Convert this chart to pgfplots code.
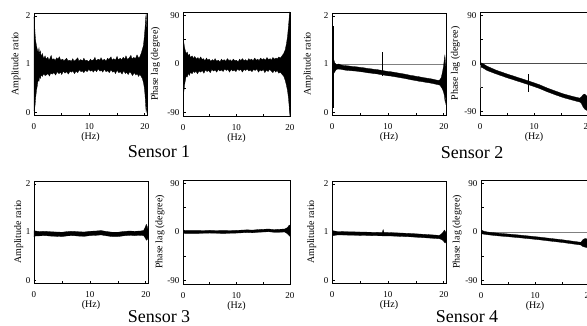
\documentclass[border=0pt]{standalone}
\usepackage{pgfplots}
\pgfplotsset{compat=1.18}
\usepackage{fontspec}
\setmainfont{Liberation Serif}
\pgfplotsset{
 panel/.style={scale only axis, anchor=south west,
   axis line style={line width=0.8pt},
   tick align=inside, tick pos=left,
   major tick length=2.5pt, minor tick length=2.5pt,
   every tick/.style={black, line width=0.6pt},
   xtick={0,10,20}, xticklabels={0,10,20}, minor xtick={5,15},
   ticklabel style={font=\fontsize{9}{10}\selectfont},
   xticklabel style={yshift=-5pt},
   label style={font=\fontsize{10}{12}\selectfont},
   xlabel={(Hz)},
   xlabel style={at={(axis description cs:0.5,0)}, anchor=center, yshift=-22pt},
   /pgf/number format/assume math mode=true},
 amp/.style={panel, xmin=0, xmax=20.4, ymin=-0.06, ymax=2.06,
   ytick={0,1,2}, yticklabels={0,1,2}, ylabel={Amplitude ratio},
   width=113pt, height=102pt,
   ylabel style={at={(axis description cs:#1,0.5)}, anchor=center}},
 ph/.style={panel, xmin=0, xmax=20, ymin=-96, ymax=96,
   ytick={-90,0,90}, yticklabels={-90,0,90}, minor ytick={-45,45},
   ylabel={Phase lag (degree)},
   width=107pt, height=104pt,
   ylabel style={at={(axis description cs:#1,0.5)}, anchor=center}},
 band/.style={fill=black, draw=black, line width=0.3pt, mark=none},
 spike/.style={black, mark=none, line width=#1},
 refl/.style={gray, mark=none, line width=0.6pt},
}
\begin{document}
\begin{tikzpicture}
\path[use as bounding box] (0pt,0pt) rectangle (587pt,325pt);
\clip (0pt,0pt) rectangle (587pt,325pt);

% ---------- Sensor 1 amplitude ----------
\begin{axis}[amp=-0.16, at={(34pt,210pt)}]
\addplot[band] coordinates {
(0,1.98)(0.1,1.85)(0.2,1.62)(0.3,1.48)(0.45,1.38)(0.6,1.30)(0.75,1.24)(0.9,1.33)(1.0,1.20)(1.15,1.27)(1.3,1.15)(1.5,1.22)(1.75,1.11)
(2.0,1.17)(2.2,1.10)(2.5,1.14)(2.7,1.08)(2.9,1.12)(3.1,1.18)(3.3,1.09)(3.6,1.11)(3.8,1.07)(4.1,1.13)(4.3,1.10)(4.6,1.15)(4.8,1.08)(5.2,1.10)(5.4,1.06)(5.6,1.09)(5.9,1.12)(6.1,1.07)(6.5,1.08)(6.7,1.05)(7.0,1.11)(7.2,1.06)(7.5,1.08)(7.9,1.13)(8.1,1.06)(8.4,1.09)(8.8,1.07)(9.0,1.12)(9.3,1.06)(9.5,1.08)(9.9,1.05)(10.2,1.10)(10.4,1.07)(10.8,1.09)(11.0,1.14)(11.2,1.07)(11.6,1.10)(11.9,1.08)(12.1,1.13)(12.4,1.07)(12.7,1.10)(13.0,1.06)(13.3,1.12)(13.5,1.09)(13.9,1.15)(14.1,1.08)(14.4,1.11)(14.7,1.08)(15.0,1.16)(15.2,1.09)(15.6,1.12)(15.8,1.08)(16.1,1.14)(16.4,1.10)(16.6,1.17)(16.9,1.09)(17.2,1.13)(17.5,1.18)(17.7,1.10)(18.0,1.14)(18.3,1.11)(18.6,1.19)(18.9,1.12)(19.1,1.15)
(19.35,1.22)(19.55,1.30)(19.75,1.38)(19.9,1.55)(20.05,1.75)(20.15,1.95)(20.25,2.04)(20.35,1.80)(20.4,1.5)
(20.4,0.4)(20.35,0.08)(20.25,0.0)(20.15,0.15)(20.05,0.35)(19.9,0.52)(19.75,0.62)(19.55,0.70)(19.35,0.74)
(19.1,0.79)(18.9,0.74)(18.6,0.80)(18.4,0.77)(18.1,0.82)(17.8,0.76)(17.5,0.81)(17.3,0.84)(17.0,0.78)(16.7,0.83)(16.5,0.80)(16.2,0.86)(15.9,0.79)(15.6,0.84)(15.3,0.82)(15.0,0.87)(14.7,0.80)(14.5,0.85)(14.2,0.83)(13.9,0.88)(13.6,0.82)(13.3,0.86)(13.0,0.84)(12.7,0.89)(12.4,0.83)(12.2,0.87)(11.9,0.85)(11.6,0.90)(11.3,0.84)(11.0,0.88)(10.7,0.83)(10.5,0.87)(10.2,0.85)(9.9,0.89)(9.6,0.84)(9.3,0.87)(9.0,0.82)(8.7,0.86)(8.5,0.84)(8.2,0.88)(7.9,0.82)(7.6,0.85)(7.3,0.80)(7.0,0.86)(6.8,0.83)(6.5,0.85)(6.2,0.79)(5.9,0.84)(5.6,0.81)(5.3,0.85)(5.0,0.78)(4.8,0.83)(4.5,0.80)(4.2,0.84)(3.9,0.77)(3.6,0.82)(3.3,0.79)(3.0,0.81)(2.8,0.75)(2.5,0.80)(2.2,0.77)(2.0,0.76)
(1.75,0.80)(1.5,0.74)(1.3,0.78)(1.15,0.70)(1.0,0.74)(0.9,0.64)(0.75,0.68)(0.6,0.55)(0.45,0.45)(0.3,0.30)(0.2,0.15)(0.1,0.05)(0,0.02)
};
\end{axis}

% ---------- Sensor 1 phase ----------
\begin{axis}[ph=-0.257, at={(183pt,209pt)}]
\addplot[band] coordinates {
(0,62)(0.08,50)(0.15,40)(0.3,30)(0.45,24)(0.6,19)(0.8,22)(1.0,15)(1.2,18)(1.4,12)(1.7,15)
(2.0,10)(2.2,14)(2.5,9)(2.8,12)(3.0,8)(3.3,13)(3.6,8)(3.8,10)(4.1,6)(4.4,11)(4.6,7)(4.9,9)(5.2,5)(5.5,8)(5.8,6)(6.0,10)(6.3,5)(6.6,7)(6.9,4)(7.2,9)(7.4,6)(7.7,8)(8.0,5)(8.3,10)(8.6,6)(8.8,8)(9.1,5)(9.4,9)(9.7,6)(10.0,7)(10.3,4)(10.6,9)(10.8,6)(11.1,10)(11.4,6)(11.7,8)(12.0,5)(12.3,10)(12.5,7)(12.8,9)(13.1,6)(13.4,11)(13.7,7)(14.0,9)(14.2,6)(14.5,11)(14.8,8)(15.1,10)(15.4,7)(15.7,12)(16.0,8)(16.3,10)(16.5,7)(16.8,12)(17.1,9)(17.4,11)(17.6,9)(17.9,13)
(18.2,11)(18.5,15)(18.8,19)(19.1,26)(19.35,38)(19.55,52)(19.7,68)(19.85,85)(19.95,96)(20,96)
(20,-96)(19.95,-92)(19.85,-78)(19.7,-62)(19.55,-50)(19.35,-40)(19.1,-30)(18.8,-22)(18.5,-19)(18.2,-15)
(17.9,-17)(17.6,-12)(17.3,-15)(17.1,-11)(16.8,-16)(16.5,-13)(16.2,-10)(15.9,-14)(15.6,-11)(15.3,-16)(15.0,-10)(14.7,-13)(14.4,-11)(14.1,-15)(13.8,-9)(13.5,-12)(13.2,-10)(12.9,-14)(12.6,-11)(12.3,-13)(12.0,-9)(11.7,-12)(11.4,-10)(11.1,-15)(10.8,-10)(10.5,-12)(10.2,-9)(9.9,-14)(9.6,-11)(9.3,-13)(9.0,-10)(8.7,-15)(8.4,-10)(8.1,-12)(7.8,-9)(7.5,-14)(7.2,-11)(6.9,-13)(6.6,-10)(6.3,-15)(6.0,-11)(5.7,-13)(5.4,-10)(5.1,-16)(4.8,-12)(4.5,-14)(4.2,-11)(3.9,-17)(3.6,-12)(3.3,-15)(3.0,-13)(2.7,-18)(2.4,-13)(2.2,-16)(2.0,-13)
(1.7,-18)(1.4,-15)(1.2,-21)(1.0,-17)(0.8,-24)(0.6,-22)(0.45,-30)(0.3,-38)(0.15,-52)(0.08,-60)(0,-68)
};
\end{axis}

% ---------- Sensor 2 amplitude ----------
\begin{axis}[amp=-0.208, at={(332pt,210pt)}, width=114pt]
\addplot[refl] coordinates {(0,1)(20.4,1)};
\addplot[band] coordinates {
(0,1.05)(0.15,1.12)(0.3,1.10)(0.5,1.02)(0.8,0.99)(1.2,1.0)(1.6,0.98)(2,0.97)(2.5,0.965)(3,0.96)(3.5,0.95)(4,0.945)(4.5,0.94)(5,0.93)(5.5,0.925)(6,0.915)(6.5,0.905)(7,0.90)(7.5,0.89)(8,0.885)(8.5,0.875)(9,0.865)(9.5,0.855)(10,0.845)(10.5,0.84)(11,0.83)(11.5,0.82)(12,0.81)(12.5,0.80)(13,0.79)(13.5,0.778)(14,0.765)(14.5,0.757)(15,0.745)(15.5,0.737)(16,0.725)(16.5,0.715)(17,0.705)(17.5,0.697)(18,0.685)(18.5,0.672)(19,0.66)(19.3,0.67)(19.55,0.72)(19.75,0.82)(19.95,0.95)(20.1,1.10)(20.2,1.18)(20.3,1.05)(20.4,0.9)
(20.4,0.4)(20.3,0.18)(20.2,0.25)(20.1,0.35)(19.95,0.42)(19.75,0.48)(19.55,0.52)(19.3,0.56)(19,0.57)(18.5,0.582)(18,0.595)(17.5,0.607)(17,0.615)(16.5,0.625)(16,0.635)(15.5,0.643)(15,0.655)(14.5,0.665)(14,0.675)(13.5,0.688)(13,0.70)(12.5,0.71)(12,0.72)(11.5,0.73)(11,0.74)(10.5,0.75)(10,0.755)(9.5,0.765)(9,0.775)(8.5,0.785)(8,0.795)(7.5,0.80)(7,0.81)(6.5,0.815)(6,0.825)(5.5,0.835)(5,0.84)(4.5,0.85)(4,0.855)(3.5,0.86)(3,0.865)(2.5,0.87)(2,0.88)(1.6,0.89)(1.2,0.895)(0.8,0.89)(0.5,0.84)(0.3,0.80)(0.15,0.82)(0,0.86)
};
\addplot[spike=1.2pt] coordinates {(0.18,0.08)(0.18,1.8)};
\addplot[spike=0.8pt] coordinates {(9.1,0.75)(9.1,1.25)};
\end{axis}

% ---------- Sensor 2 phase ----------
\begin{axis}[ph=-0.227, at={(480pt,210pt)}, width=108pt, height=103pt]
\addplot[refl, black!70] coordinates {(0,0)(20,0)};
\addplot[band] coordinates {
(0,2)(0.5,0)(1.3,-5)(3,-12.5)(5,-19.5)(7,-26)(9,-32.5)(11,-39.5)(12.4,-45.5)(14,-51.5)(15.4,-56.5)(17.2,-61.5)(18.5,-64.5)(18.8,-62)(19.1,-58)(19.4,-57)(19.7,-60)(20,-62)
(20,-88)(19.7,-87)(19.4,-85)(19.1,-81)(18.8,-75)(18.5,-72)(17.2,-68.5)(15.4,-63.5)(14,-58.5)(12.4,-52.5)(11,-46.5)(9,-39.5)(7,-33)(5,-26.5)(3,-19.5)(1.3,-13)(0.5,-8)(0,-6)
};
\addplot[spike=1.4pt] coordinates {(0.12,-2)(0.12,82)};
\addplot[spike=0.5pt, gray] coordinates {(0.12,-45)(0.12,-2)};
\addplot[spike=0.8pt] coordinates {(8.9,-20)(8.9,-53)};
\end{axis}

% ---------- Sensor 3 amplitude ----------
\begin{axis}[amp=-0.133, at={(34pt,42pt)}, width=114pt]
\addplot[band] coordinates {
(0,1.03)(0.3,1.02)(1,1.01)(2,1.015)(3,1.005)(4,1.0)(5,0.995)(6,1.01)(7,1.015)(8,1.005)(9,1.0)(10,1.015)(11,1.02)(12,1.03)(13,1.01)(14,0.995)(15,0.995)(16,1.01)(17,1.02)(18,1.015)(19,1.02)(19.6,1.03)(19.9,1.10)(20.1,1.16)(20.25,1.12)(20.4,1.05)
(20.4,0.88)(20.25,0.84)(20.1,0.83)(19.9,0.88)(19.6,0.925)(19,0.93)(18,0.925)(17,0.93)(16,0.92)(15,0.905)(14,0.905)(13,0.92)(12,0.94)(11,0.93)(10,0.925)(9,0.91)(8,0.915)(7,0.925)(6,0.92)(5,0.905)(4,0.91)(3,0.915)(2,0.925)(1,0.92)(0.3,0.92)(0,0.9)
};
\addplot[spike=1.3pt] coordinates {(0.12,0.65)(0.12,1.28)};
\end{axis}

% ---------- Sensor 3 phase ----------
\begin{axis}[ph=-0.215, at={(183pt,41pt)}]
\addplot[band] coordinates {
(0,4)(0.5,2.5)(2,2.5)(3,2.5)(5,3)(7,2.5)(8,2.5)(10,3)(11,3.5)(12,4)(13,3.5)(14,4.5)(15,5)(16,5.5)(17,4.5)(18,5)(19,5.5)(19.5,8)(19.8,12)(20,13)
(20,-8)(19.8,-6)(19.5,-3)(19,0)(18,-0.5)(17,-0.5)(16,0.5)(15,0)(14,-0.5)(13,-1.5)(12,-1)(11,-1.5)(10,-2)(8,-2.5)(7,-2.5)(5,-2)(3,-2.5)(2,-2.5)(0.5,-2.5)(0,-3)
};
\addplot[spike=0.8pt] coordinates {(0.12,-27)(0.12,27)};
\end{axis}

% ---------- Sensor 4 amplitude ----------
\begin{axis}[amp=-0.177, at={(332pt,42pt)}, width=114pt]
\addplot[band] coordinates {
(0,1.03)(0.5,1.02)(1,1.01)(3,1.005)(5,1.0)(7,0.995)(9,0.99)(9.15,1.05)(9.3,0.99)(10,0.99)(12,0.98)(14,0.97)(16,0.955)(18,0.94)(19.2,0.93)(19.6,0.96)(19.9,1.0)(20.1,1.04)(20.25,1.02)(20.4,0.98)
(20.4,0.8)(20.25,0.77)(20.1,0.79)(19.9,0.82)(19.6,0.845)(19.2,0.86)(18,0.87)(16,0.885)(14,0.9)(12,0.91)(10,0.92)(9,0.92)(7,0.925)(5,0.93)(3,0.935)(1,0.94)(0.5,0.93)(0,0.92)
};
\addplot[spike=1.3pt] coordinates {(0.15,0.5)(0.15,1.18)};
\end{axis}

% ---------- Sensor 4 phase ----------
\begin{axis}[ph=-0.22, at={(481pt,41pt)}, width=108pt]
\addplot[refl] coordinates {(0,0)(20,0)};
\addplot[band] coordinates {
(0,4)(0.5,1.5)(1.2,0)(3,-2)(4.8,-3.5)(7,-5.5)(9,-7.5)(10.9,-9.5)(13,-12)(15.2,-14.5)(17,-17)(18.5,-19)(18.9,-14)(19.3,-12)(19.7,-13)(20,-14)
(20,-30)(19.7,-29)(19.3,-28)(18.9,-27)(18.5,-24)(17,-22)(15.2,-19.5)(13,-17)(10.9,-14.5)(9,-12.5)(7,-10.5)(4.8,-8.5)(3,-7)(1.2,-5)(0.5,-4)(0,-3)
};
\addplot[spike=1.4pt] coordinates {(0.12,0)(0.12,76)};
\addplot[spike=0.7pt] coordinates {(0.12,-22)(0.12,0)};
\end{axis}

\node[font=\fontsize{18}{20}\selectfont, anchor=base] at (159pt,168pt) {Sensor 1};
\node[font=\fontsize{18}{20}\selectfont, anchor=base] at (472pt,167pt) {Sensor 2};
\node[font=\fontsize{18}{20}\selectfont, anchor=base] at (159pt,3pt) {Sensor 3};
\node[font=\fontsize{18}{20}\selectfont, anchor=base] at (467pt,3pt) {Sensor 4};
\end{tikzpicture}
\end{document}
